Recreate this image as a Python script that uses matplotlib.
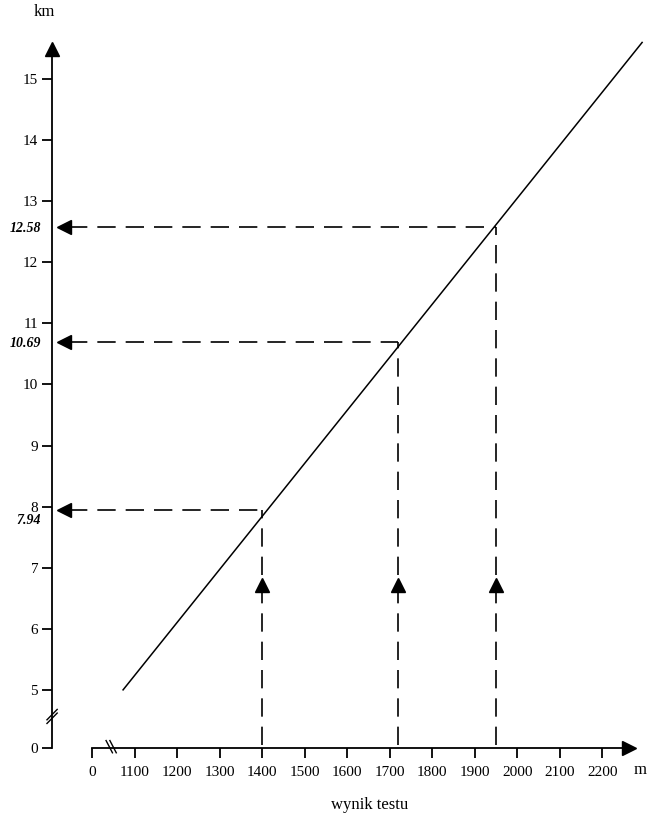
import numpy as np
import matplotlib
matplotlib.use('Agg')
import matplotlib.pyplot as plt

plt.rcParams['font.family'] = ['Liberation Serif', 'DejaVu Serif']

# axis ticks (the "0" sits before the axis break)
x_ticks = [1000, 1100, 1200, 1300, 1400, 1500, 1600, 1700, 1800, 1900, 2000, 2100, 2200]
x_labels = ['0', '1100', '1200', '1300', '1400', '1500', '1600', '1700', '1800', '1900', '2000', '2100', '2200']
y_zero = 4.05
y_ticks = [y_zero, 5, 6, 7, 8, 9, 10, 11, 12, 13, 14, 15]
y_labels = ['0', '5', '6', '7', '8', '9', '10', '11', '12', '13', '14', '15']

# conversion line: test result (m) -> km
line_x = [1073, 2294]
line_y = [5.0, 15.6]

# read-off examples
test_results = [1400, 1720, 1950]
km_values = [7.94, 10.69, 12.58]
km_text = ['7.94', '10.69', '12.58']

fig = plt.figure(figsize=(6.57, 8.21), dpi=100)
ax = fig.add_axes([0, 0, 1, 1])
ax.set_xlim(783.5, 2329)
ax.set_ylim(2.853, 16.295)

y_axis_x = 906
ax.spines['top'].set_visible(False)
ax.spines['right'].set_visible(False)
ax.spines['left'].set_position(('data', y_axis_x))
ax.spines['left'].set_bounds(y_zero, 15.5)
ax.spines['bottom'].set_position(('data', y_zero))
ax.spines['bottom'].set_bounds(1000, 2260)
for s in ['left', 'bottom']:
    ax.spines[s].set_linewidth(1.3)

ax.set_xticks(x_ticks)
ax.set_xticklabels(x_labels)
ax.set_yticks(y_ticks)
ax.set_yticklabels(y_labels)
ax.tick_params(axis='x', direction='out', length=7, width=1.3, pad=6, labelsize=11)
ax.tick_params(axis='y', direction='out', length=7, width=1.3, pad=3, labelsize=11)

# axis arrow heads
ax.plot([y_axis_x], [15.5], marker='^', markersize=10, color='black', clip_on=False)
ax.plot([2262], [y_zero], marker='>', markersize=10, color='black', clip_on=False)

# axis breaks
for dy in [0.0, 0.06]:
    ax.plot([y_axis_x - 12, y_axis_x + 12], [4.45 + dy, 4.62 + dy], color='black', lw=1)
for dx in [0, 9]:
    ax.plot([1033 + dx, 1048 + dx], [y_zero + 0.12, y_zero - 0.08], color='black', lw=1)

# main line
ax.plot(line_x, line_y, color='black', lw=1.1)

dash = (11, 6)
label_shift = [-0.17, -0.02, -0.02]
for xv, kv, lab, sh in zip(test_results, km_values, km_text, label_shift):
    ax.plot([xv, xv], [y_zero + 0.05, kv], color='black', lw=1.2, dashes=dash)
    ax.plot([xv], [6.72], marker='^', markersize=10, color='black')
    ax.plot([y_axis_x + 40, xv], [kv, kv], color='black', lw=1.2, dashes=dash)
    ax.plot([y_axis_x + 27], [kv], marker='<', markersize=10, color='black')
    ax.text(880, kv + sh, lab, ha='right', va='center', fontsize=10, style='italic', fontweight='bold')

ax.text(887, 16.1, 'km', ha='center', va='center', fontsize=12)
ax.text(2290, 3.68, 'm', ha='center', va='center', fontsize=12)
ax.text(1654, 3.116, 'wynik testu', ha='center', va='center', fontsize=12)

plt.savefig('out.png', dpi=100)
